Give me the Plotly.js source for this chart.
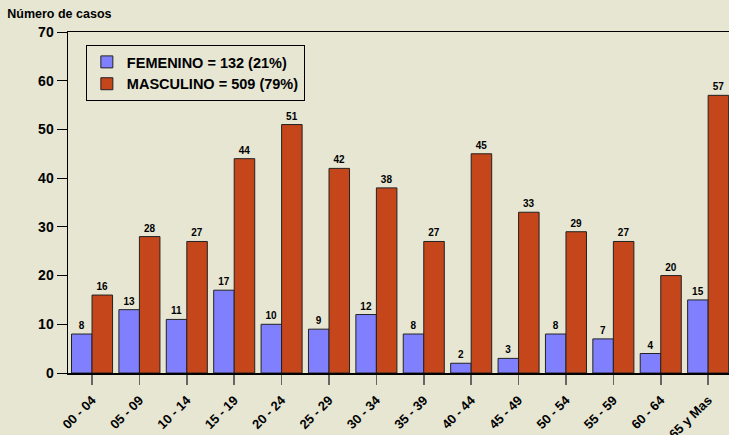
<!DOCTYPE html>
<html>
<head>
<meta charset="utf-8">
<script src="https://cdn.plot.ly/plotly-3.0.1.min.js"></script>
<style>html,body{margin:0;padding:0;background:#E6E6D3;}</style>
</head>
<body>
<div id="chart" style="width:729px;height:435px;"></div>
<script>
const categories = ["00 - 04","05 - 09","10 - 14","15 - 19","20 - 24","25 - 29","30 - 34","35 - 39","40 - 44","45 - 49","50 - 54","55 - 59","60 - 64","65 y Mas"];
const femenino = [8,13,11,17,10,9,12,8,2,3,8,7,4,15];
const masculino = [16,28,27,44,51,42,38,27,45,33,29,27,20,57];
const seriesNames = ["FEMENINO = 132 (21%)","MASCULINO = 509 (79%)"];
const yTicks = [0,10,20,30,40,50,60,70];

const font = "Liberation Sans, Arial, sans-serif";
const traces = [
  {type:'bar', name:seriesNames[0], x:categories, y:femenino, text:femenino.map(String),
   textposition:'outside', cliponaxis:false,
   textfont:{family:font, size:10, color:'#000', weight:'bold'},
   marker:{color:'#8080FF', line:{color:'#222', width:1}}},
  {type:'bar', name:seriesNames[1], x:categories, y:masculino, text:masculino.map(String),
   textposition:'outside', cliponaxis:false,
   textfont:{family:font, size:10, color:'#000', weight:'bold'},
   marker:{color:'#C4461A', line:{color:'#222', width:1}}}
];
const layout = {
  width:729, height:435,
  margin:{l:68, r:0, t:32, b:62},
  paper_bgcolor:'#E6E6D3', plot_bgcolor:'#E6E6D3',
  font:{family:font, color:'#000', weight:'bold'},
  barmode:'group', bargap:0.134, bargroupgap:0,
  title:{text:'Número de casos', x:0.01, xref:'container', xanchor:'left', y:0.968, yref:'container', yanchor:'middle',
         font:{family:font, size:12.5, color:'#000', weight:'bold'}},
  xaxis:{type:'category', range:[-0.507,13.44], showline:true, linecolor:'#000', linewidth:1.5, mirror:true,
         ticks:'outside', ticklen:10, tickcolor:'#666', tickwidth:1.5, tickangle:-45, automargin:false,
         ticklabelstandoff:3,
         tickfont:{family:font, size:13, color:'#000', weight:'bold'}, showgrid:false, zeroline:false},
  yaxis:{range:[0,70], tickvals:yTicks, showline:true, linecolor:'#000', linewidth:1.5, automargin:false,
         ticks:'outside', ticklen:10, tickcolor:'#000', tickwidth:1,
         tickfont:{family:font, size:14, color:'#000', weight:'bold'}, showgrid:false, zeroline:false},
  legend:{x:0.027, y:0.962, xanchor:'left', yanchor:'top', bgcolor:'rgba(0,0,0,0)', bordercolor:'#000', borderwidth:1,
          font:{family:font, size:14.5, color:'#000', weight:'bold'}, tracegroupgap:0, itemwidth:30},
  showlegend:true
};
Plotly.newPlot('chart', traces, layout, {displayModeBar:false, staticPlot:true});
</script>
</body>
</html>
